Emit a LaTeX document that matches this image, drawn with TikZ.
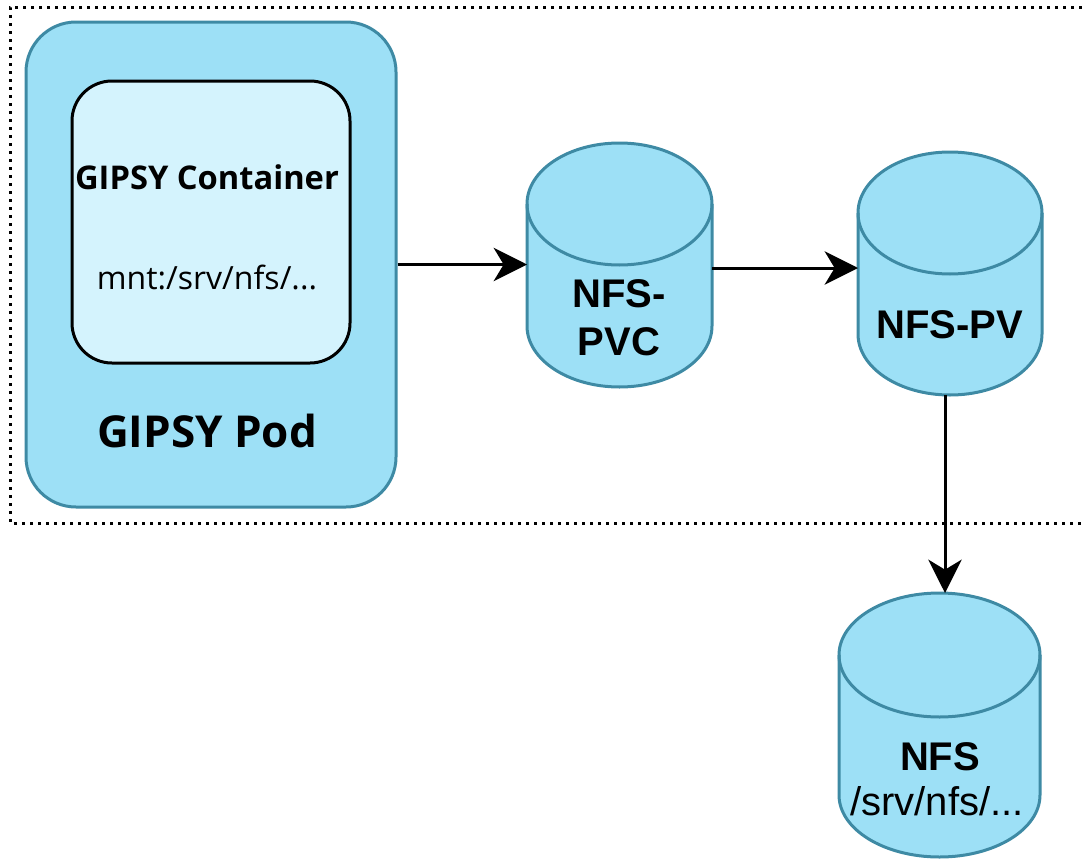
\documentclass[tikz,border=0pt]{standalone}
\usepackage{fontspec}
\setmainfont{Liberation Sans}
\newfontfamily\opensans{Open Sans}
\usetikzlibrary{arrows.meta,calc}

\definecolor{cylfill}{RGB}{157,224,246}
\definecolor{cylline}{RGB}{62,138,164}
\definecolor{boxfill}{RGB}{212,243,253}

\tikzset{
  frame/.style={line width=2.25pt, dash pattern=on 2.25pt off 3.75pt, black},
  podbox/.style={draw=cylline, fill=cylfill, line width=2.25pt, rounded corners=37.5pt, inner sep=0pt},
  ctrbox/.style={draw=black, fill=boxfill, line width=2.25pt, rounded corners=30pt, inner sep=0pt},
  cylnode/.style={rectangle, inner sep=0pt, outer sep=0pt},
  cylbody/.style={fill=cylfill, draw=cylline, line width=2.25pt},
  cylrim/.style={draw=cylline, line width=2.25pt},
  conn/.style={line width=2.25pt, -{Stealth[length=25pt, width=25pt, inset=7.5pt]}},
  boldsans/.style={font=\bfseries\fontsize{30}{36}\selectfont, align=center, inner sep=0pt},
  plainsans/.style={font=\fontsize{30}{36}\selectfont, inner sep=0pt},
}

% cylinder: name, x1, y1, x2, y2, ry  (pixel units, y measured downward)
\newcommand\drawcyl[6]{%
  \node[cylnode, minimum width={(#4-#2)*0.75pt}, minimum height={(#5-#3)*0.75pt}]
    (#1) at ({(#2+#4)/2},{-(#3+#5)/2}) {};
  \path[cylbody] (#2,{-(#3+#6)}) -- (#2,{-(#5-#6)})
    arc[start angle=180, end angle=360, x radius={(#4-#2)*0.375pt}, y radius={#6*0.75pt}]
    -- (#4,{-(#3+#6)})
    arc[start angle=0, end angle=180, x radius={(#4-#2)*0.375pt}, y radius={#6*0.75pt}]
    -- cycle;
  \draw[cylrim] (#2,{-(#3+#6)})
    arc[start angle=180, end angle=360, x radius={(#4-#2)*0.375pt}, y radius={#6*0.75pt}];
}

\begin{document}
\begin{tikzpicture}[x=0.75pt, y=0.75pt]
\useasboundingbox (0,0) rectangle (1082,-860);

% dotted boundary (open towards the right)
\draw[frame] (1082,-7) -- (10,-7) -- (10,-523) -- (1082,-523);

% pod and container
\node[podbox, minimum width=277.5pt, minimum height=363.75pt] (pod) at (211,-264.5) {};
\node[ctrbox, minimum width=208.5pt, minimum height=211.5pt] (ctr) at (211,-222) {};
\node[inner sep=0pt, font=\opensans\bfseries\fontsize{24.5}{29}\selectfont] (ctrtitle) at (207,-177) {GIPSY Container};
\node[inner sep=0pt, font=\opensans\fontsize{24}{29}\selectfont] (ctrmount) at (207,-277) {mnt:/srv/nfs/...};
\node[inner sep=0pt, font=\opensans\bfseries\fontsize{33}{40}\selectfont] (podtitle) at (207,-431) {GIPSY Pod};

% volumes
\drawcyl{pvc}{527}{143}{712}{387}{61}
\drawcyl{pv}{858}{152}{1042}{395}{61}
\drawcyl{nfs}{839}{593}{1040}{857}{62}

\node[boldsans] (pvclabel) at (619,-318) {NFS-\\PVC};
\node[boldsans] (pvlabel) at (950,-325) {NFS-PV};
\node[boldsans] (nfslabel) at (940,-757) {NFS};
\node[plainsans] (nfspath) at (937,-801) {/srv/nfs/...};

% connectors
\draw[conn] (pod.east) -- (pod.east -| pvc.west);
\draw[conn] ([yshift=-2.25pt]pvc.east) -- ([yshift=-2.25pt]pvc.east -| pv.west);
\draw[conn] ([xshift=-3.75pt]pv.south) -- ([xshift=-3.75pt]pv.south |- nfs.north);
\end{tikzpicture}
\end{document}
